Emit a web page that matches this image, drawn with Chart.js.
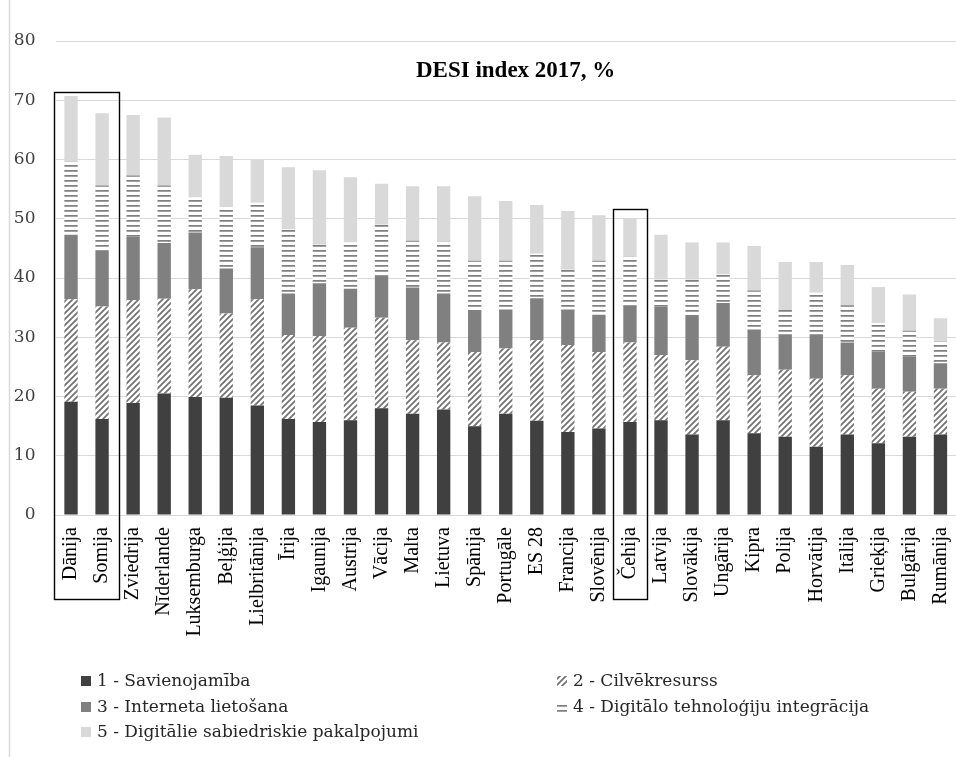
<!DOCTYPE html>
<html><head><meta charset="utf-8">
<script src="https://cdn.jsdelivr.net/npm/chart.js@4/dist/chart.umd.min.js"></script>
<style>html,body{margin:0;padding:0;background:#fff;overflow:hidden}#wrap{position:relative;width:956px;height:757px}</style>
</head><body><div id="wrap"><canvas id="c" width="956" height="757"></canvas></div>
<script>
const categories = ['Dānija','Somija','Zviedrija','Nīderlande','Luksemburga','Beļģija','Lielbritānija','Īrija','Igaunija','Austrija','Vācija','Malta','Lietuva','Spānija','Portugāle','ES 28','Francija','Slovēnija','Čehija','Latvija','Slovākija','Ungārija','Kipra','Polija','Horvātija','Itālija','Grieķija','Bulgārija','Rumānija'];
const seriesNames = ['1 - Savienojamība','2 - Cilvēkresurss','3 - Interneta lietošana','4 - Digitālo tehnoloģiju integrācija','5 - Digitālie sabiedriskie pakalpojumi'];
const connectivity   = [19.1,16.2,18.9,20.5,19.9,19.8,18.5,16.2,15.7,16.0,18.0,17.1,17.8,15.0,17.1,15.9,14.0,14.6,15.7,16.0,13.6,16.0,13.8,13.2,11.5,13.6,12.1,13.2,13.6];
const humanCapital   = [17.3,19.0,17.4,16.0,18.2,14.2,17.9,14.2,14.5,15.6,15.3,12.4,11.3,12.5,11.0,13.6,14.7,12.9,13.4,11.0,12.5,12.4,9.8,11.3,11.5,10.0,9.2,7.6,7.7];
const internetUse    = [10.9,9.5,10.6,9.4,9.6,7.6,8.8,7.0,8.9,6.6,7.1,8.9,8.3,7.1,6.6,7.1,6.0,6.3,6.2,8.1,7.5,7.4,7.7,6.0,7.5,5.5,6.2,6.0,4.3];
const integration    = [12.3,10.9,10.4,9.7,5.9,10.4,7.5,10.8,6.5,7.8,8.6,7.9,8.7,8.3,8.2,7.5,6.7,9.1,8.3,4.6,6.1,4.8,6.6,4.1,7.0,6.3,4.9,4.3,3.7];
const publicServices = [11.1,12.2,10.2,11.5,7.2,8.6,7.3,10.5,12.6,11.0,6.9,9.2,9.4,10.9,10.1,8.2,9.9,7.7,6.5,7.6,6.3,5.4,7.5,8.1,5.2,6.8,6.1,6.1,3.9];
const yMin = 0, yMax = 80, yStep = 10;
const chartTitle = 'DESI index 2017, %';
// highlighted groups: first category, last category, top value of frame
const highlightFirst = ['Dānija','Čehija'];
const highlightLast  = ['Somija','Čehija'];
const highlightTop   = [71.4, 51.7];

const canvas = document.getElementById('c');
const mainCtx = canvas.getContext('2d');
function hatchPattern(){
  const t=document.createElement('canvas'); t.width=t.height=6;
  const x=t.getContext('2d'); x.fillStyle='#fff'; x.fillRect(0,0,6,6);
  x.strokeStyle='#737373'; x.lineWidth=1.8; x.beginPath();
  x.moveTo(-1,7); x.lineTo(7,-1); x.moveTo(-4,4); x.lineTo(4,-4); x.moveTo(2,10); x.lineTo(10,2); x.stroke();
  return mainCtx.createPattern(t,'repeat');
}
function linePattern(){
  const t=document.createElement('canvas'); t.width=5; t.height=5;
  const x=t.getContext('2d'); x.fillStyle='#fff'; x.fillRect(0,0,5,5);
  x.fillStyle='#808080'; x.fillRect(0,0,5,1); x.fillStyle='#a0a0a0'; x.fillRect(0,1,5,1);
  return mainCtx.createPattern(t,'repeat');
}
const fills = ['#404040', hatchPattern(), '#808080', linePattern(), '#d9d9d9'];
const values = [connectivity, humanCapital, internetUse, integration, publicServices];

const decor = {
  id:'decor',
  beforeDraw(chart){
    const ctx=chart.ctx; ctx.save();
    ctx.strokeStyle='#d9d9d9'; ctx.lineWidth=1.5;
    ctx.beginPath(); ctx.moveTo(9.5,0); ctx.lineTo(9.5,757); ctx.stroke();
    ctx.restore();
  },
  afterDraw(chart){
    const ctx=chart.ctx, xs=chart.scales.x, ys=chart.scales.y, ca=chart.chartArea;
    ctx.save();
    // title
    ctx.font='bold 23px "Liberation Serif"'; ctx.fillStyle='#000'; ctx.textAlign='center'; ctx.textBaseline='middle';
    ctx.fillText(chartTitle, ca.left+(ca.right-ca.left)*0.511, ca.top+30);
    // frames
    const cw = (ca.right-ca.left)/categories.length;
    ctx.strokeStyle='#000'; ctx.lineWidth=1.4;
    for(let i=0;i<highlightFirst.length;i++){
      const l = xs.getPixelForValue(categories.indexOf(highlightFirst[i])) - cw*0.54;
      const r = xs.getPixelForValue(categories.indexOf(highlightLast[i])) + cw*0.54;
      const t = ys.getPixelForValue(highlightTop[i]);
      ctx.strokeRect(Math.round(l)+0.5, Math.round(t)+0.5, Math.round(r-l), Math.round(599-t));
    }
    // legend
    const pos=[[81,681],[557,681],[81,707],[557,707],[81,732]];
    ctx.font='17px "DejaVu Serif"'; ctx.textAlign='left'; ctx.textBaseline='middle';
    chart.data.datasets.forEach((d,i)=>{
      const [x,y]=pos[i];
      ctx.fillStyle=d.backgroundColor; ctx.fillRect(x,y-5,10,10);
      ctx.fillStyle='#262626'; ctx.fillText(d.label, x+16, y+1);
    });
    ctx.restore();
  }
};

new Chart(canvas, {
  type:'bar',
  data:{ labels:categories, datasets: seriesNames.map((n,i)=>({label:n, data:values[i], backgroundColor:fills[i], borderWidth:0, barPercentage:0.43, categoryPercentage:1})) },
  options:{
    responsive:false, animation:false,
    layout:{padding:{top:41,left:0,right:0,bottom:0}},
    plugins:{legend:{display:false}, title:{display:false}, tooltip:{enabled:false}},
    scales:{
      x:{ stacked:true, grid:{display:false, drawTicks:false}, border:{display:true,color:'#d9d9d9',width:1},
          ticks:{autoSkip:false, minRotation:90, maxRotation:90, padding:12, color:'#000', font:{family:'"Liberation Serif"', size:20}},
          afterFit(s){ s.height=242; s.paddingLeft=0; s.paddingRight=0; } },
      y:{ stacked:true, min:yMin, max:yMax, grid:{color:'#d9d9d9', drawTicks:false}, border:{display:false},
          ticks:{stepSize:yStep, padding:20, color:'#404040', font:{family:'"DejaVu Serif"', size:17}},
          afterFit(s){ s.width=55.5; } }
    }
  },
  plugins:[decor]
});
</script></body></html>
